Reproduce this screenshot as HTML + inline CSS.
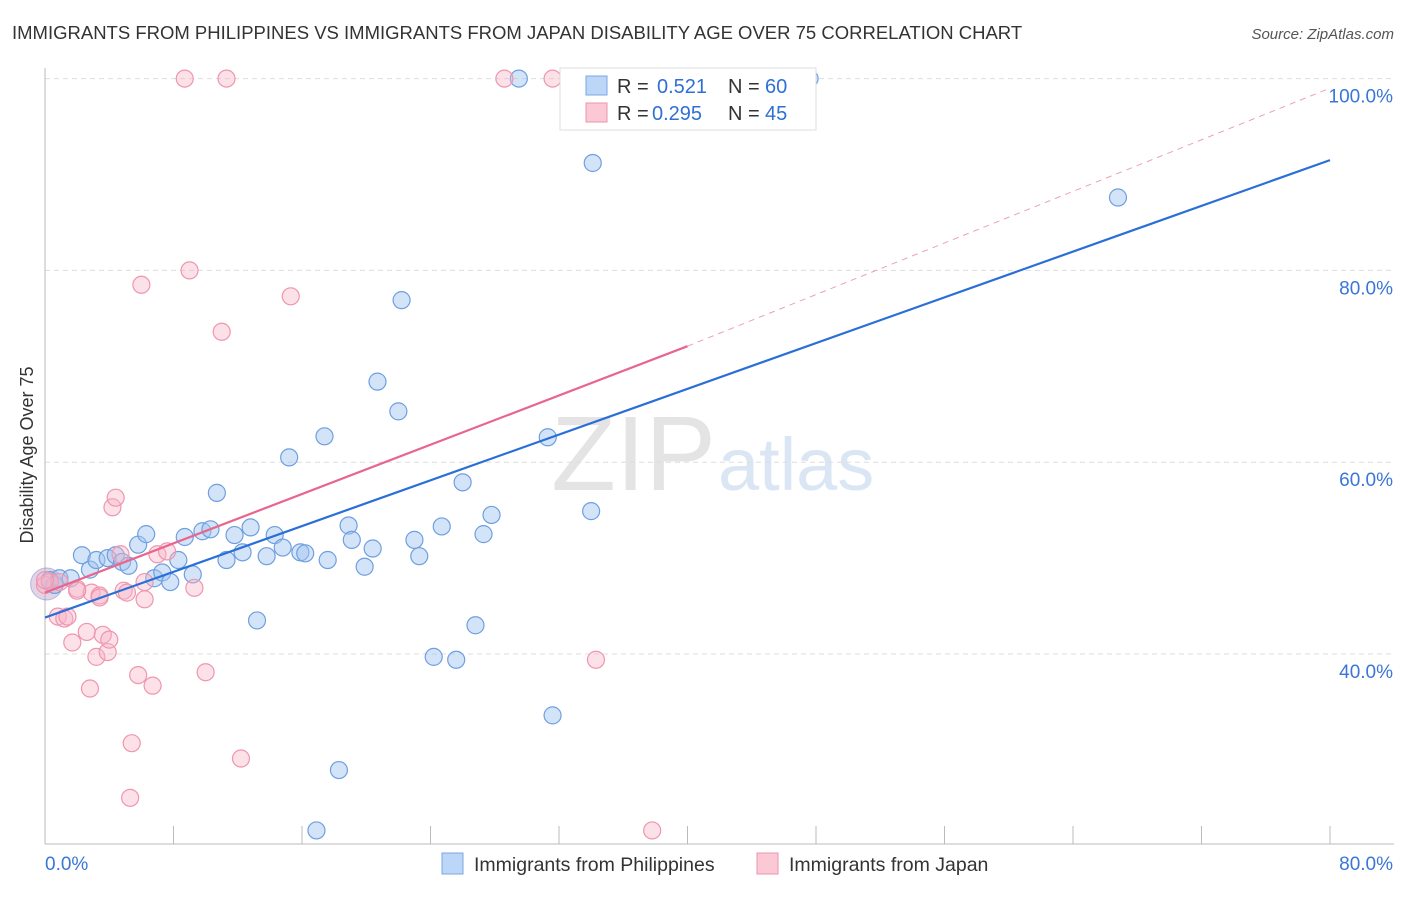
<!DOCTYPE html>
<html><head><meta charset="utf-8"><style>
body{margin:0;background:#fff;font-family:"Liberation Sans",sans-serif}
svg text{font-family:"Liberation Sans",sans-serif}
</style></head><body>
<svg id="c" width="1406" height="892">
<text x="12" y="39" font-size="18.5" fill="#333">IMMIGRANTS FROM PHILIPPINES VS IMMIGRANTS FROM JAPAN DISABILITY AGE OVER 75 CORRELATION CHART</text>
<text x="1394" y="39" font-size="15" fill="#555" font-style="italic" text-anchor="end">Source: ZipAtlas.com</text>
<text x="716" y="490" font-size="106" fill="#e4e4e4" text-anchor="end" font-family="Liberation Serif">ZIP</text>
<text x="718" y="490" font-size="74" fill="#dbe6f5">atlas</text>
<text transform="translate(33,455) rotate(-90)" font-size="18" fill="#333" text-anchor="middle">Disability Age Over 75</text>
<g id="grid"></g><g id="pts"></g><g id="lines"></g>
<g>
<rect x="560" y="68" width="256" height="62" fill="#fff" stroke="#ddd"/>
<rect x="586" y="76" width="21" height="19" fill="#bcd6f7" stroke="#7aa7e6"/>
<rect x="586" y="103" width="21" height="19" fill="#fbc8d5" stroke="#ee93ac"/>
<text x="617" y="93" font-size="20" fill="#333">R =</text><text x="657" y="93" font-size="20" fill="#2f6fd6">0.521</text>
<text x="728" y="93" font-size="20" fill="#333">N =</text><text x="765" y="93" font-size="20" fill="#2f6fd6">60</text>
<text x="617" y="120" font-size="20" fill="#333">R =</text><text x="652" y="120" font-size="20" fill="#2f6fd6">0.295</text>
<text x="728" y="120" font-size="20" fill="#333">N =</text><text x="765" y="120" font-size="20" fill="#2f6fd6">45</text>
</g>
<g>
<rect x="442" y="853" width="21" height="21" fill="#bcd6f7" stroke="#7aa7e6"/>
<text x="474" y="871" font-size="19.5" fill="#333">Immigrants from Philippines</text>
<rect x="757" y="853" width="21" height="21" fill="#fbc8d5" stroke="#ee93ac"/>
<text x="789" y="871" font-size="19.5" fill="#333">Immigrants from Japan</text>
</g>
</svg>
<script>
const yTicks=[40,60,80,100];
const xTickLabels=["0.0%","80.0%"];
const blueX=[0.3,0.6,0.9,1.6,2.3,2.8,3.2,3.9,4.4,4.8,5.2,5.8,6.3,6.8,7.3,7.8,8.3,8.7,9.2,9.8,10.3,10.7,11.3,11.8,12.3,12.8,13.2,13.8,14.3,14.8,15.2,15.9,16.2,17.4,17.6,18.3,16.9,18.9,19.1,19.9,20.4,20.7,22.0,22.2,23.0,23.3,24.2,24.7,25.6,26.0,26.8,27.3,27.8,29.5,31.3,31.6,34.0,34.1,47.6,66.8];
const blueY=[47.7,47.2,47.9,47.9,50.3,48.8,49.8,50.0,50.3,49.6,49.2,51.4,52.5,47.9,48.5,47.5,49.8,52.2,48.3,52.8,53.0,56.8,49.8,52.4,50.6,53.2,43.5,50.2,52.4,51.1,60.5,50.6,50.5,62.7,49.8,27.9,21.6,53.4,51.9,49.1,51.0,68.4,65.3,76.9,51.9,50.2,39.7,53.3,39.4,57.9,43.0,52.5,54.5,100.0,62.6,33.6,54.9,91.2,100.0,87.6];
const pinkX=[0,0.3,0.8,1.2,1.4,1.7,2.0,2.6,2.8,2.9,3.2,3.4,3.6,3.9,4.0,4.2,4.4,4.7,4.9,5.1,5.4,5.3,5.8,6.0,6.2,6.7,7.0,7.6,8.7,9.0,9.3,10.0,11.0,11.3,12.2,15.3,28.6,31.6,34.3,37.8,2.0,0.9,0,3.4,6.2];
const pinkY=[47.2,47.5,43.9,43.7,43.9,41.2,46.8,42.3,36.4,46.4,39.7,46.1,42.0,40.2,41.5,55.3,56.3,50.4,46.6,46.4,30.7,25.0,37.8,78.5,45.7,36.7,50.4,50.7,100.0,80.0,46.9,38.1,73.6,100.0,29.1,77.3,100.0,100.0,39.4,21.6,46.6,47.5,47.7,45.9,47.5];
const blueLine=[43.8,91.5];
const pinkLine=[46.4,72.1,40,99];
const X=v=>45+v*16.0625, Y=v=>654-(v-40)*9.59;
const NS="http://www.w3.org/2000/svg";
function mk(t,a,p){const e=document.createElementNS(NS,t);for(const k in a)e.setAttribute(k,a[k]);p.appendChild(e);return e;}
const grid=document.getElementById('grid');
yTicks.forEach(t=>{
 const l=mk('line',{x1:45,x2:1394,y1:Y(t),y2:Y(t),stroke:'#ddd','stroke-dasharray':'5,4'},grid);
 
 
 const tx=mk('text',{x:1393,y:Y(t)+24,'font-size':19,fill:'#3a76d6','text-anchor':'end'},grid);
 tx.textContent=t.toFixed(1)+'%';
 
 
});
mk('line',{x1:45,x2:45,y1:68,y2:844,stroke:'#bbb'},grid);
mk('line',{x1:45,x2:1394,y1:844,y2:844,stroke:'#bbb'},grid);
for(let i=0;i<=10;i++){mk('line',{x1:X(i*8),x2:X(i*8),y1:826,y2:844,stroke:'#bbb'},grid);}
const xl0=mk('text',{x:45,y:870,'font-size':19,fill:'#3a76d6'},grid);xl0.textContent=xTickLabels[0];


const xl1=mk('text',{x:1393,y:870,'font-size':19,fill:'#3a76d6','text-anchor':'end'},grid);xl1.textContent=xTickLabels[1];


const pts=document.getElementById('pts');
const big=mk('circle',{cx:X(0.1),cy:Y(47.3),r:16,fill:'rgba(190,160,200,0.45)',stroke:'rgba(130,150,210,0.6)'},pts);


blueX.forEach((x,i)=>{const c=mk('circle',{cx:X(x),cy:Y(blueY[i]),r:8.5,fill:'rgba(160,196,240,0.45)',stroke:'#6e9fe0','stroke-width':1.2},pts);
 
 });
pinkX.forEach((x,i)=>{const c=mk('circle',{cx:X(x),cy:Y(pinkY[i]),r:8.5,fill:'rgba(248,180,200,0.4)',stroke:'#ef96ae','stroke-width':1.2},pts);
 
 });
const lines=document.getElementById('lines');
const bl=mk('line',{x1:X(0),y1:Y(blueLine[0]),x2:X(80),y2:Y(blueLine[1]),stroke:'#2a6fd8','stroke-width':2.2},lines);


const pe=pinkLine[0]+(pinkLine[1]-pinkLine[0])*pinkLine[2]/40;
const pl=mk('line',{x1:X(0),y1:Y(pinkLine[0]),x2:X(pinkLine[2]),y2:Y(pe),stroke:'#e8658e','stroke-width':2.2},lines);


const pd=mk('line',{x1:X(pinkLine[2]),y1:Y(pe),x2:X(80),y2:Y(pinkLine[3]),stroke:'#eca0b6','stroke-width':1,'stroke-dasharray':'6,5'},lines);


</script>
</body></html>
